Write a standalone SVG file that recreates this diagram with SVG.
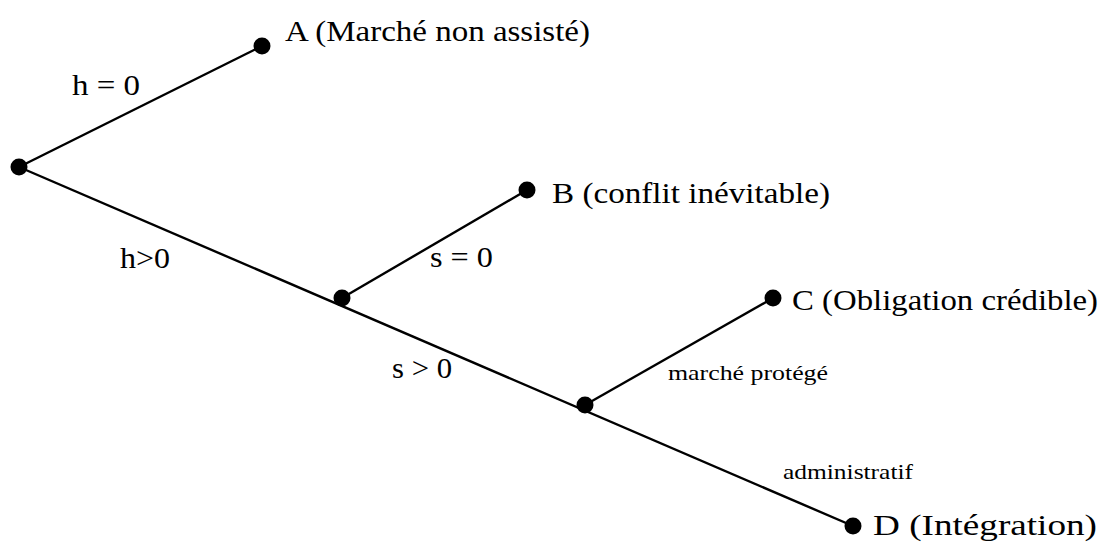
<svg xmlns="http://www.w3.org/2000/svg" width="1102" height="544" viewBox="0 0 1102 544">
<style>
.ln{stroke:#000;stroke-width:2.4;fill:none}
.dot{fill:#000}
.t{font-family:"Liberation Serif","Times New Roman",serif;fill:#000}
.big{font-size:30px}
.mid{font-size:30px}
.sm{font-size:22px}
</style>
<rect width="1102" height="544" fill="#fff"/>
<g id="connectors">
<line class="ln" x1="19" y1="167" x2="262" y2="46"/>
<line class="ln" x1="19" y1="167" x2="853" y2="526"/>
<line class="ln" x1="342" y1="298" x2="527" y2="190"/>
<line class="ln" x1="585" y1="405" x2="773" y2="298"/>
<text class="t mid" x="72" y="95" textLength="68" lengthAdjust="spacingAndGlyphs">h = 0</text>
<text class="t mid" x="120" y="268" textLength="50" lengthAdjust="spacingAndGlyphs">h&gt;0</text>
<text class="t mid" x="430" y="267" textLength="63" lengthAdjust="spacingAndGlyphs">s = 0</text>
<text class="t mid" x="392" y="378" textLength="60" lengthAdjust="spacingAndGlyphs">s &gt; 0</text>
<text class="t sm" x="668" y="380" textLength="160" lengthAdjust="spacingAndGlyphs">marché protégé</text>
<text class="t sm" x="783" y="479" textLength="130" lengthAdjust="spacingAndGlyphs">administratif</text>
</g>
<g id="root"><circle class="dot" cx="19" cy="167" r="8.5"/></g>
<g id="n1"><circle class="dot" cx="342" cy="298" r="8.5"/></g>
<g id="n2"><circle class="dot" cx="585" cy="405" r="8.5"/></g>
<g id="A"><circle class="dot" cx="262" cy="46" r="8.5"/><text class="t big" x="285" y="41" textLength="305" lengthAdjust="spacingAndGlyphs">A (Marché non assisté)</text></g>
<g id="B"><circle class="dot" cx="527" cy="190" r="8.5"/><text class="t big" x="552" y="203" textLength="278" lengthAdjust="spacingAndGlyphs">B (conflit inévitable)</text></g>
<g id="C"><circle class="dot" cx="773" cy="298" r="8.5"/><text class="t big" x="792" y="310" textLength="306" lengthAdjust="spacingAndGlyphs">C (Obligation crédible)</text></g>
<g id="D"><circle class="dot" cx="853" cy="526" r="8.5"/><text class="t big" x="873" y="535" textLength="224" lengthAdjust="spacingAndGlyphs">D (Intégration)</text></g>
</svg>
